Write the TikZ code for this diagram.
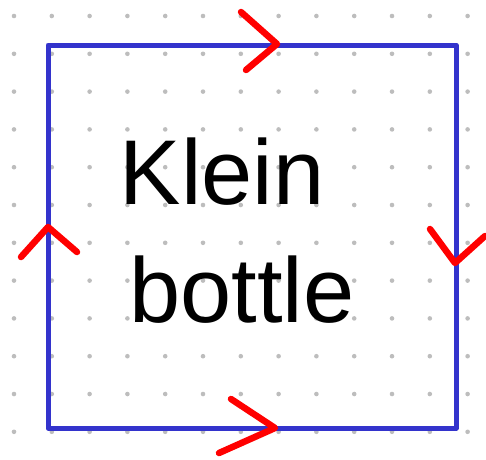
\documentclass[tikz,border=0pt]{standalone}
\usepackage{fontspec}
\setmainfont{Liberation Sans}
\definecolor{GridDot}{HTML}{BDBDBD}
\definecolor{EdgeBlue}{HTML}{3333CC}
\definecolor{MarkRed}{HTML}{FF0000}

\begin{document}
\begin{tikzpicture}[x=1pt, y=-1pt,
    griddot/.style={fill=GridDot, draw=none},
    edge/.style={draw=EdgeBlue, line width=5pt, line join=round},
    chevron/.style={draw=MarkRed, line width=6.5pt, line cap=round, line join=round},
    label/.style={font=\fontsize{92}{100}\selectfont, text=black, inner sep=0pt}
]
    \useasboundingbox (0,0) rectangle (486,459);

    % dotted paper
    \foreach \i in {0,...,12}
        \foreach \j in {0,...,11}
            \fill[griddot] (14+37.8*\i, 16+37.8*\j) circle (2.3);

    \coordinate (nw) at (48,45);
    \coordinate (ne) at (456,45);
    \coordinate (se) at (456,428);
    \coordinate (sw) at (48,428);
    \draw[edge] (nw) -- (ne) -- (se) -- (sw) -- cycle;

    % edge identifications
    \draw[chevron] (241,12) -- (277,44) -- (246,70);
    \draw[chevron] (231,399) -- (275,428) -- (219,453);
    \draw[chevron] (430,229) -- (455,263) -- (485,236);
    \draw[chevron] (21,257) -- (48,227) -- (77,252);

    \node[label, anchor=base] (klein) at (222,204) {Klein};
    \node[label, anchor=base] (bottle) at (242,322) {bottle};
\end{tikzpicture}
\end{document}
